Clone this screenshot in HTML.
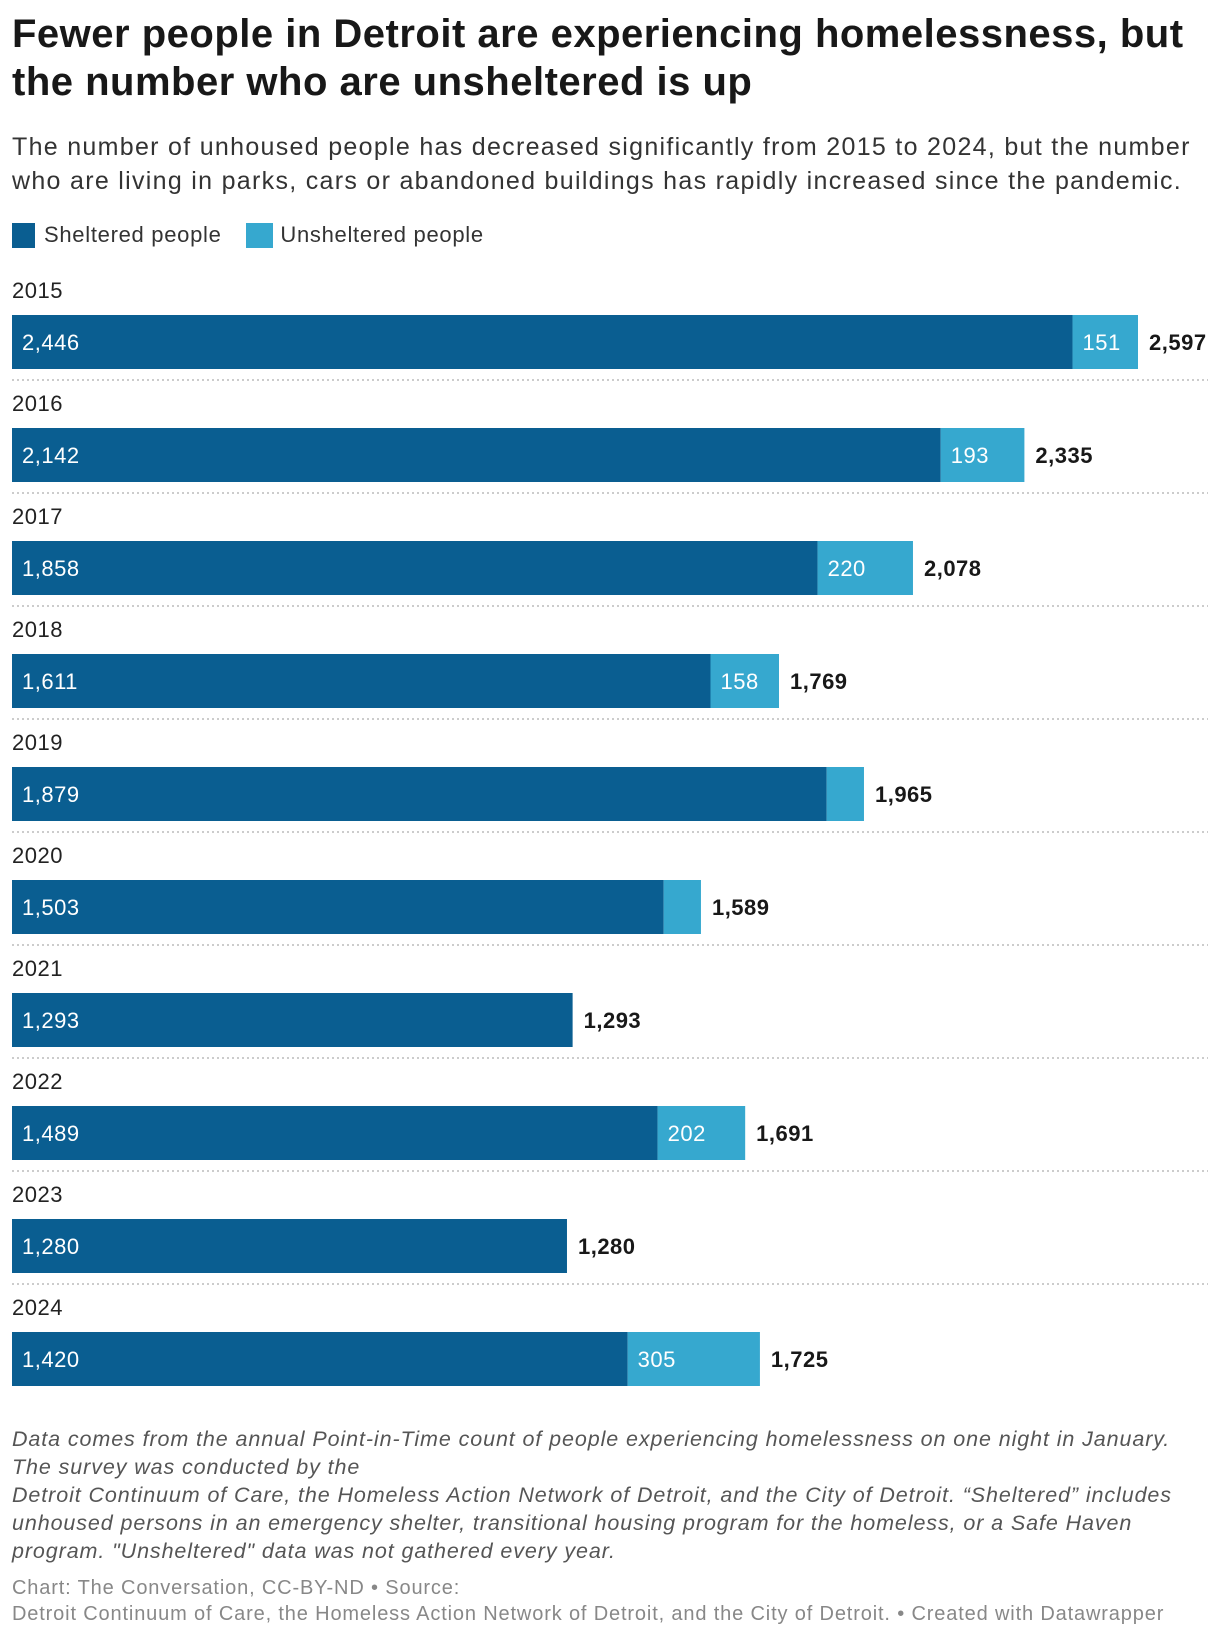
<!DOCTYPE html>
<html><head><meta charset="utf-8">
<style>
body{margin:0;width:1220px;height:1636px;background:#fff;font-family:"Liberation Sans",sans-serif;color:#181818;position:relative;overflow:hidden}
.t{position:absolute;left:12px;white-space:nowrap}
</style></head><body>
<div class="t" style="top:10px;font-size:40px;font-weight:bold;line-height:48px;letter-spacing:0.5px">Fewer people in Detroit are experiencing homelessness, but<br>the number who are unsheltered is up</div>
<div class="t" style="top:130px;font-size:25px;line-height:34px;color:#333;letter-spacing:1.3px">The number of unhoused people has decreased significantly from 2015 to 2024, but the number<br>who are living in parks, cars or abandoned buildings has rapidly increased since the pandemic.</div>
<div class="t" style="top:221px;font-size:22px;line-height:28px;color:#333;letter-spacing:0.7px">
<span><span style="display:inline-block;width:23px;height:25px;background:#0a5e91;vertical-align:-6px;margin-right:9px"></span>Sheltered people</span>
<span style="margin-left:18px"><span style="display:inline-block;width:27px;height:25px;background:#36a8cf;vertical-align:-6px;margin-right:7px"></span>Unsheltered people</span>
</div>
<svg id="chart" width="1220" height="1636" style="position:absolute;left:0;top:0" font-family="Liberation Sans, sans-serif"></svg>
<div class="t" style="top:1425px;font-size:21.5px;line-height:28px;font-style:italic;color:#555;letter-spacing:0.9px">Data comes from the annual Point-in-Time count of people experiencing homelessness on one night in January.<br>The survey was conducted by the<br>Detroit Continuum of Care, the Homeless Action Network of Detroit, and the City of Detroit. “Sheltered” includes<br>unhoused persons in an emergency shelter, transitional housing program for the homeless, or a Safe Haven<br>program. "Unsheltered" data was not gathered every year.</div>
<div class="t" style="top:1575px;font-size:20px;line-height:26px;color:#888;letter-spacing:0.85px">Chart: The Conversation, CC-BY-ND • Source:<br>Detroit Continuum of Care, the Homeless Action Network of Detroit, and the City of Detroit. • Created with Datawrapper</div>
<script>
const years=["2015","2016","2017","2018","2019","2020","2021","2022","2023","2024"];
const sheltered=[2446,2142,1858,1611,1879,1503,1293,1489,1280,1420];
const unsheltered=[151,193,220,158,86,86,0,202,0,305];
const svg=document.getElementById('chart');
const NS='http://www.w3.org/2000/svg';
const x0=12,pxPer=1126/2597,top0=315,step=113,bh=54;
const xs=v=>v*pxPer;
function mk(tag,a){const e=document.createElementNS(NS,tag);for(const k in a)e.setAttribute(k,a[k]);svg.appendChild(e);return e;}
const fmt=v=>v.toLocaleString('en-US');
years.forEach((y,i)=>{
  const t=top0+i*step;
  const yl=mk('text',{x:12,y:t-17,'font-size':22,fill:'#222','letter-spacing':0.5});yl.textContent=y;
  
  
  const ws=xs(sheltered[i]);
  const r1=mk('rect',{x:x0,y:t,width:ws,height:bh,fill:'#0a5e91'});
  
  
  const l1=mk('text',{x:x0+10,y:t+bh/2+8,'font-size':22,fill:'#fff','letter-spacing':0.5});l1.textContent=fmt(sheltered[i]);
  
  
  const wu=xs(unsheltered[i]);
  if(unsheltered[i]>0){
    const r2=mk('rect',{x:x0+ws,y:t,width:wu,height:bh,fill:'#36a8cf'});
    
    
    if(wu>50){const l2=mk('text',{x:x0+ws+10,y:t+bh/2+8,'font-size':22,fill:'#fff','letter-spacing':0.5});l2.textContent=fmt(unsheltered[i]);
      
      }
  }
  const tot=sheltered[i]+unsheltered[i];
  const l3=mk('text',{x:x0+xs(tot)+11,y:t+bh/2+8,'font-size':22,'font-weight':'bold',fill:'#181818','letter-spacing':0.5});l3.textContent=fmt(tot);
  
  
  if(i<years.length-1){const ln=mk('line',{x1:12,x2:1208,y1:t+bh+11,y2:t+bh+11,stroke:'#ccc','stroke-width':2,'stroke-dasharray':'2,3'});
    
    }
});
</script>
</body></html>
